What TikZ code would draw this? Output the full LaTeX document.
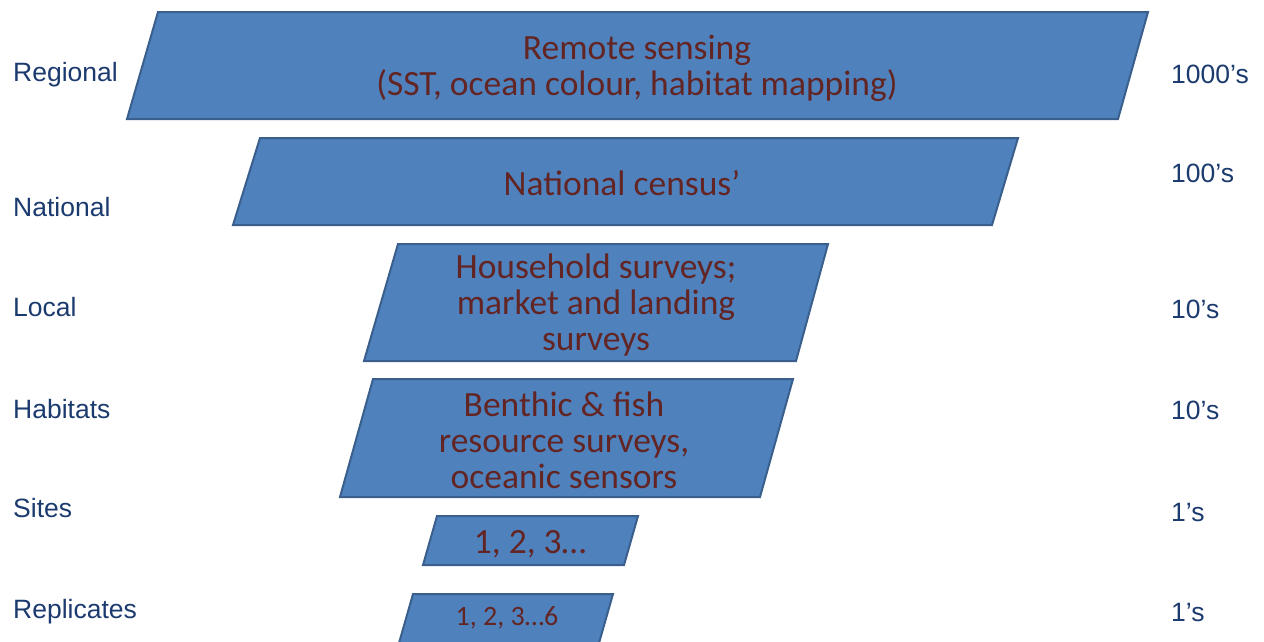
\documentclass[tikz,border=0pt]{standalone}
\usepackage{fontspec}
\setmainfont{Carlito}
\newfontfamily\labfont{Liberation Sans}
\definecolor{boxfill}{HTML}{4F81BD}
\definecolor{boxline}{HTML}{3A5F8C}
\definecolor{boxtxt}{HTML}{632523}
\definecolor{labtxt}{HTML}{1B3A6E}
\tikzset{
  stepbox/.style={fill=boxfill, draw=boxline, line width=2pt, line join=miter},
  boxtext/.style={text=boxtxt, align=center, inner sep=0pt, font=\fontsize{35.5}{36}\selectfont},
  smalltext/.style={text=boxtxt, align=center, inner sep=0pt, font=\fontsize{28}{30}\selectfont},
  lab/.style={text=labtxt, anchor=base west, inner sep=0pt, font=\labfont\fontsize{26.5}{28}\selectfont}
}
\begin{document}
\begin{tikzpicture}[x=1pt,y=-1pt]
\useasboundingbox (0,0) rectangle (1264,641);
\clip (0,0) rectangle (1264,641);
% boxes
\draw[stepbox] (158,12) -- (1148,12) -- (1118,119) -- (127,119) -- cycle;
\draw[stepbox] (260,138) -- (1018,138) -- (992,225) -- (233,225) -- cycle;
\draw[stepbox] (398,244) -- (828,244) -- (796,361) -- (364,361) -- cycle;
\draw[stepbox] (373,379) -- (793,379) -- (760,497) -- (340,497) -- cycle;
\draw[stepbox] (437,516) -- (638,516) -- (624,565) -- (423,565) -- cycle;
\draw[stepbox] (413,594) -- (613,594) -- (597,650) -- (397,650) -- cycle;
% box texts
\node[boxtext] (remote) at (637,68) {Remote sensing\\(SST, ocean colour, habitat mapping)};
\node[boxtext] (census) at (622,183) {National census’};
\node[boxtext] (house) at (596,305) {Household surveys;\\market and landing\\surveys};
\node[boxtext] (benthic) at (564,440) {Benthic \& fish\\resource surveys,\\oceanic sensors};
\node[boxtext] (sites) at (530,544) {1, 2, 3…};
\node[smalltext] (reps) at (507,618) {1, 2, 3…6};
% left labels
\node[lab] (lregional) at (13,81) {Regional};
\node[lab] (lnational) at (13,216) {National};
\node[lab] (llocal) at (13,316) {Local};
\node[lab] (lhabitats) at (13,418) {Habitats};
\node[lab] (lsites) at (13,517) {Sites};
\node[lab] (lreplicates) at (13,618) {Replicates};
% right labels
\node[lab] (r1) at (1171,83) {1000’s};
\node[lab] (r2) at (1171,182) {100’s};
\node[lab] (r3) at (1171,318) {10’s};
\node[lab] (r4) at (1171,419) {10’s};
\node[lab] (r5) at (1171,521) {1’s};
\node[lab] (r6) at (1171,621) {1’s};
\end{tikzpicture}
\end{document}
